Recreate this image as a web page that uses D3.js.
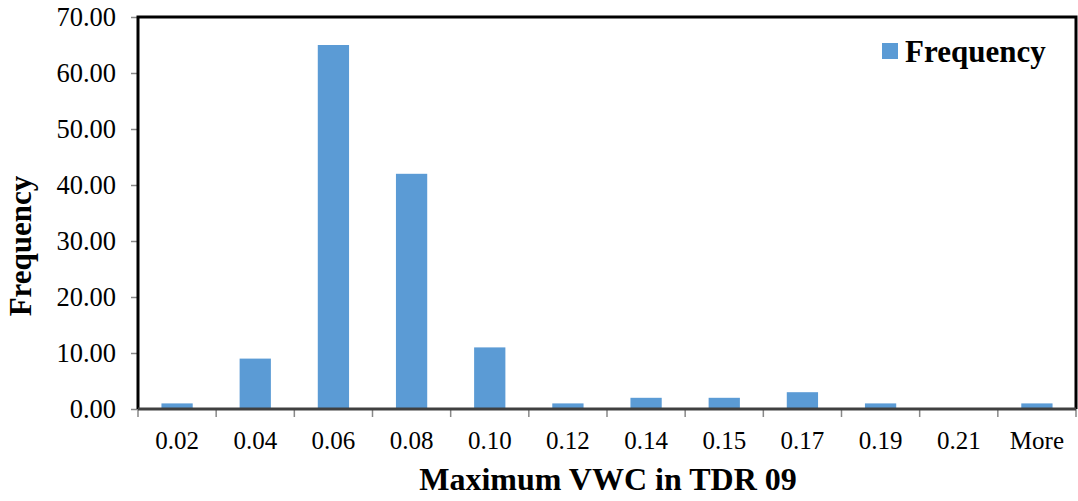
<!DOCTYPE html>
<html>
<head>
<meta charset="utf-8">
<script src="https://cdn.jsdelivr.net/npm/d3@7"></script>
<style>
  body { margin: 0; background: #fff; }
  text { font-family: "Liberation Serif", "Times New Roman", serif; fill: #000; }
</style>
</head>
<body>
<div id="chart"></div>
<script>
//Datos
const categories = ['0.02','0.04','0.06','0.08','0.10','0.12','0.14','0.15','0.17','0.19','0.21','More'];
const frequency = [1, 9, 65, 42, 11, 1, 2, 2, 3, 1, 0, 1];
const yTicks = [0, 10, 20, 30, 40, 50, 60, 70];

const BAR_COLOR = '#5B9BD5';

let margin = {top: 17, right: 2, bottom: 92, left: 138},
    width = 1078 - margin.left - margin.right,
    height = 501 - margin.top - margin.bottom;

let svg = d3.select('#chart')
    .append('svg')
      .attr('width', 1078)
      .attr('height', 501)
    .append('g')
      .attr('transform', 'translate(' + margin.left + ',' + margin.top + ')');

//Escalas
let xb = d3.scaleBand().domain(categories).range([0, width]);

let y = d3.scaleLinear()
    .domain([0, 70])
    .range([height, 0]);

//Eje Y
let yAxis = svg.append('g')
    .attr('font-family', null)
    .call(d3.axisLeft(y).tickValues(yTicks).tickFormat(d3.format('.2f')).tickSize(7).tickPadding(15));
yAxis.attr('font-family', '"Liberation Serif", serif');
yAxis.select('.domain').remove();
yAxis.selectAll('.tick line').attr('stroke', '#888').attr('stroke-width', 1.5);
yAxis.selectAll('.tick text')
    .style('font-size', '26.5px')
    .attr('dy', '0.33em');

//Barras
svg.append('g')
    .selectAll('rect')
    .data(frequency)
    .enter()
    .append('rect')
    .attr('x', function(d, i) { return xb(categories[i]) + xb.bandwidth() * 0.3; })
    .attr('width', xb.bandwidth() * 0.4)
    .attr('y', function(d) { return y(d); })
    .attr('height', function(d) { return height - y(d); })
    .attr('fill', BAR_COLOR);

//Eje X (ticks entre categorías)
let xAxisG = svg.append('g')
    .attr('transform', 'translate(0,' + height + ')');
xAxisG.selectAll('line.sep')
    .data(d3.range(categories.length + 1))
    .enter()
    .append('line')
    .attr('x1', function(d) { return d * xb.step(); })
    .attr('x2', function(d) { return d * xb.step(); })
    .attr('y1', 0)
    .attr('y2', 8)
    .attr('stroke', '#888')
    .attr('stroke-width', 1.5);
xAxisG.selectAll('text')
    .data(categories)
    .enter()
    .append('text')
    .attr('x', function(d) { return xb(d) + xb.bandwidth() / 2; })
    .attr('y', 40)
    .attr('text-anchor', 'middle')
    .style('font-size', '25px')
    .text(function(d) { return d; });

//Marco
svg.append('path')
    .attr('d', 'M0,' + height + 'V0H' + width + 'V' + height)
    .attr('fill', 'none')
    .attr('stroke', '#000')
    .attr('stroke-width', 3);
svg.append('line')
    .attr('x1', 0).attr('x2', width)
    .attr('y1', height).attr('y2', height)
    .attr('stroke', '#404040')
    .attr('stroke-width', 3);

//Títulos
svg.append('text')
    .attr('x', width / 2 + 1)
    .attr('y', height + 81)
    .attr('text-anchor', 'middle')
    .style('font-size', '32px')
    .style('font-weight', 'bold')
    .text('Maximum VWC in TDR 09');

svg.append('text')
    .attr('transform', 'translate(' + (-107) + ',' + 229 + ') rotate(-90)')
    .attr('text-anchor', 'middle')
    .style('font-size', '31px')
    .style('font-weight', 'bold')
    .text('Frequency');

//Leyenda
let legend = svg.append('g').attr('transform', 'translate(744,26)');
legend.append('rect')
    .attr('width', 16).attr('height', 16)
    .attr('fill', BAR_COLOR);
legend.append('text')
    .attr('x', 23).attr('y', 19)
    .style('font-size', '31px')
    .style('font-weight', 'bold')
    .text('Frequency');
</script>
</body>
</html>
